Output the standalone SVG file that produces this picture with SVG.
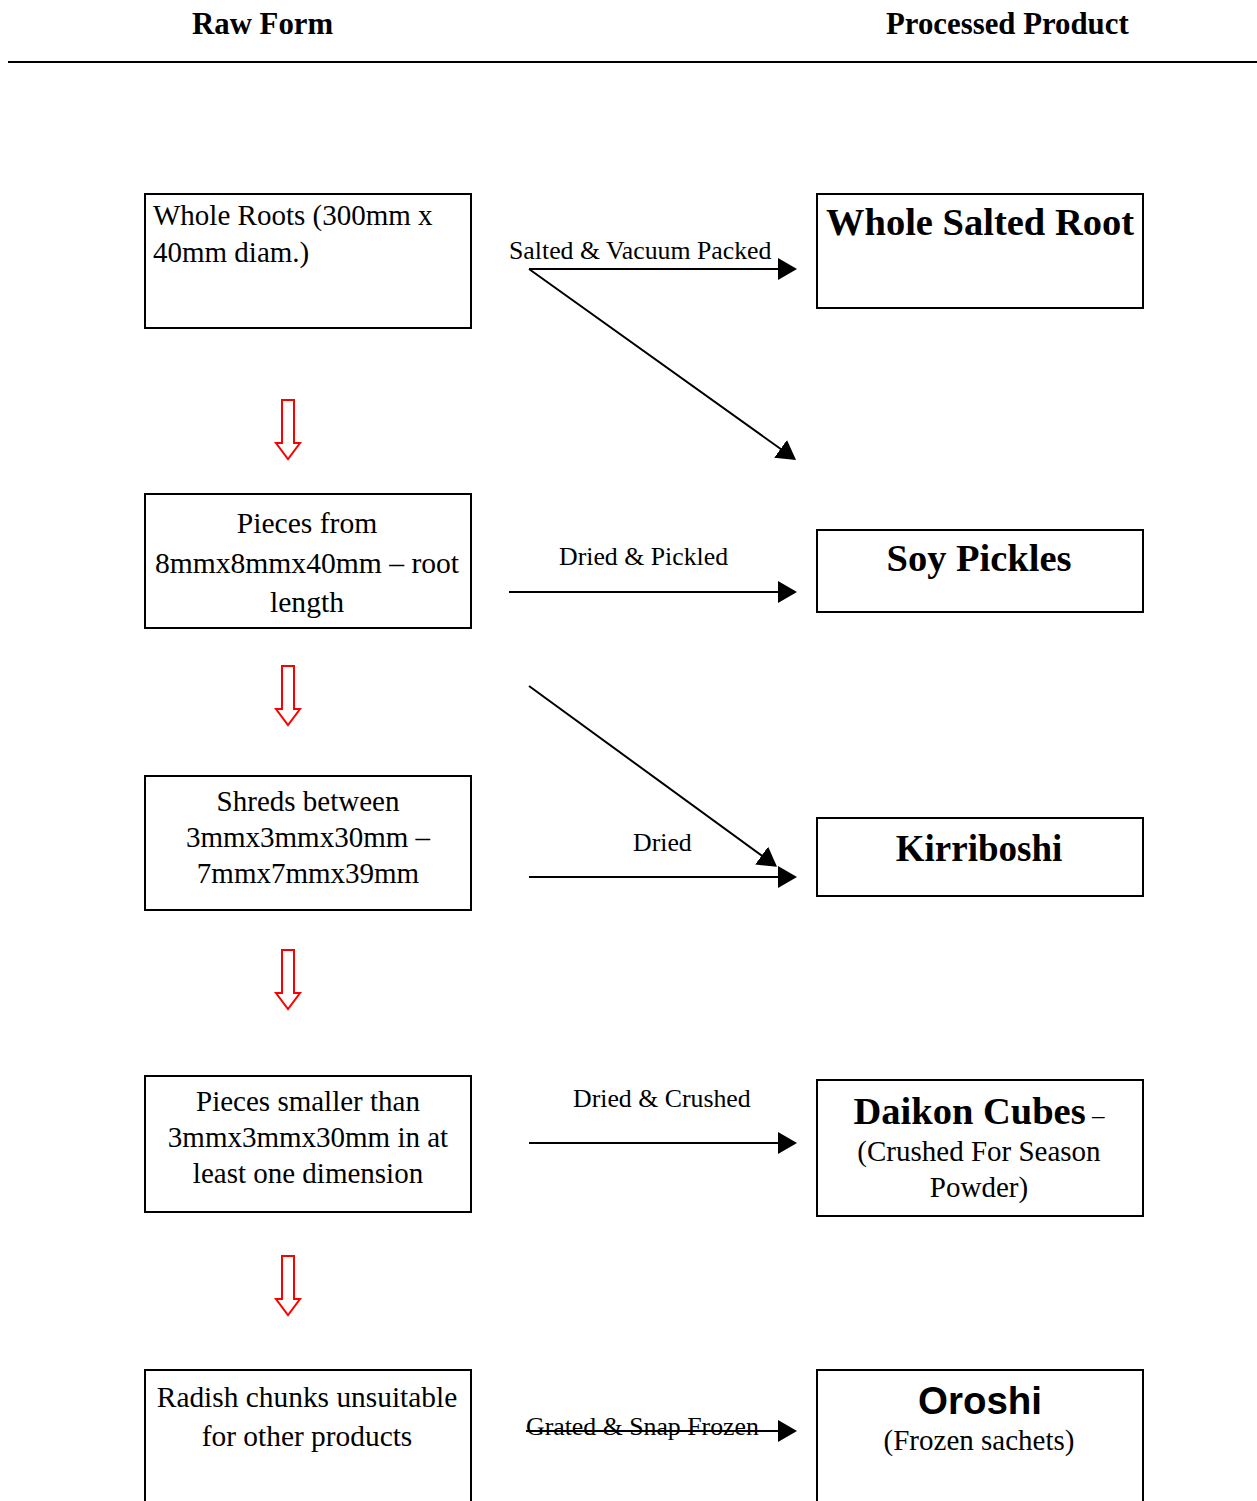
<svg xmlns="http://www.w3.org/2000/svg" width="1257" height="1501" viewBox="0 0 1257 1501">
<style>
.box{fill:#fff;stroke:#000;stroke-width:2}
.red{fill:#fff;stroke:#f00;stroke-width:2}
.ln{stroke:#000;stroke-width:2;fill:none;marker-end:url(#ah)}
.t{font-family:"Liberation Serif","Times New Roman",serif;font-size:29px;fill:#000}
.c{text-anchor:middle}
.lbl{font-family:"Liberation Serif","Times New Roman",serif;font-size:25.8px;fill:#000}
.ttl{font-family:"Liberation Serif","Times New Roman",serif;font-size:38.5px;font-weight:bold;fill:#000;text-anchor:middle}
.hdr{font-family:"Liberation Serif","Times New Roman",serif;font-size:30.8px;font-weight:bold;fill:#000}
</style>
<defs>
<marker id="ah" markerUnits="userSpaceOnUse" markerWidth="20" markerHeight="22" refX="17" refY="11" orient="auto"><path d="M0,0 L19,11 L0,22 z" fill="#000"/></marker>
<polygon id="ra" points="282,0 294,0 294,43 300,43 288,59 276,43 282,43"/>
</defs>
<rect width="1257" height="1501" fill="#fff"/>
<g id="header">
<text class="hdr" x="192" y="34">Raw Form</text>
<text class="hdr" x="886" y="34">Processed Product</text>
<line x1="8" y1="62" x2="1257" y2="62" stroke="#000" stroke-width="2"/>
</g>
<g id="raw1"><rect class="box" x="145" y="194" width="326" height="134"/>
<text class="t" x="153" y="225">Whole Roots (300mm x</text>
<text class="t" x="153" y="262">40mm diam.)</text></g>
<g id="raw2"><rect class="box" x="145" y="494" width="326" height="134"/>
<text class="t c" x="307" y="533" style="font-size:29.6px">Pieces from</text>
<text class="t c" x="307" y="573" style="font-size:29.6px">8mmx8mmx40mm – root</text>
<text class="t c" x="307" y="612" style="font-size:29.6px">length</text></g>
<g id="raw3"><rect class="box" x="145" y="776" width="326" height="134"/>
<text class="t c" x="308" y="811">Shreds between</text>
<text class="t c" x="308" y="847">3mmx3mmx30mm –</text>
<text class="t c" x="308" y="883">7mmx7mmx39mm</text></g>
<g id="raw4"><rect class="box" x="145" y="1076" width="326" height="136"/>
<text class="t c" x="308" y="1111">Pieces smaller than</text>
<text class="t c" x="308" y="1147">3mmx3mmx30mm in at</text>
<text class="t c" x="308" y="1183">least one dimension</text></g>
<g id="raw5"><rect class="box" x="145" y="1370" width="326" height="140"/>
<text class="t c" x="307" y="1407" style="font-size:29.4px">Radish chunks unsuitable</text>
<text class="t c" x="307" y="1446" style="font-size:29.4px">for other products</text></g>
<g id="prod1"><rect class="box" x="817" y="194" width="326" height="114"/>
<text class="ttl" x="980" y="235">Whole Salted Root</text></g>
<g id="prod2"><rect class="box" x="817" y="530" width="326" height="82"/>
<text class="ttl" x="979" y="571">Soy Pickles</text></g>
<g id="prod3"><rect class="box" x="817" y="818" width="326" height="78"/>
<text class="ttl" x="979" y="861" style="font-size:37px">Kirriboshi</text></g>
<g id="prod4"><rect class="box" x="817" y="1080" width="326" height="136"/>
<text class="ttl" x="979" y="1124">Daikon Cubes<tspan style="font-weight:normal;font-size:25px"> –</tspan></text>
<text class="t c" x="979" y="1161">(Crushed For Season</text>
<text class="t c" x="979" y="1197">Powder)</text></g>
<g id="prod5"><rect class="box" x="817" y="1370" width="326" height="140"/>
<text class="ttl" x="980" y="1414" style="font-family:'Liberation Sans',Arial,sans-serif">Oroshi</text>
<text class="t c" x="979" y="1450">(Frozen sachets)</text></g>
<g id="steps">
<use href="#ra" class="red" y="400"/>
<use href="#ra" class="red" y="666"/>
<use href="#ra" class="red" y="950"/>
<use href="#ra" class="red" y="1256"/>
</g>
<g id="connectors">
<line class="ln" x1="529" y1="269" x2="795" y2="269"/>
<line class="ln" x1="529" y1="269" x2="794.4" y2="458.8"/>
<line class="ln" x1="509" y1="592" x2="795" y2="592"/>
<line class="ln" x1="529" y1="686" x2="775.4" y2="865.6"/>
<line class="ln" x1="529" y1="877" x2="795" y2="877"/>
<line class="ln" x1="529" y1="1143" x2="795" y2="1143"/>
<text class="lbl" x="509" y="259">Salted &amp; Vacuum Packed</text>
<text class="lbl" x="559" y="565">Dried &amp; Pickled</text>
<text class="lbl" x="633" y="851">Dried</text>
<text class="lbl" x="573" y="1107">Dried &amp; Crushed</text>
<text class="lbl" x="526" y="1435">Grated &amp; Snap Frozen</text>
<line class="ln" x1="526" y1="1431" x2="795" y2="1431"/>
</g>
</svg>
